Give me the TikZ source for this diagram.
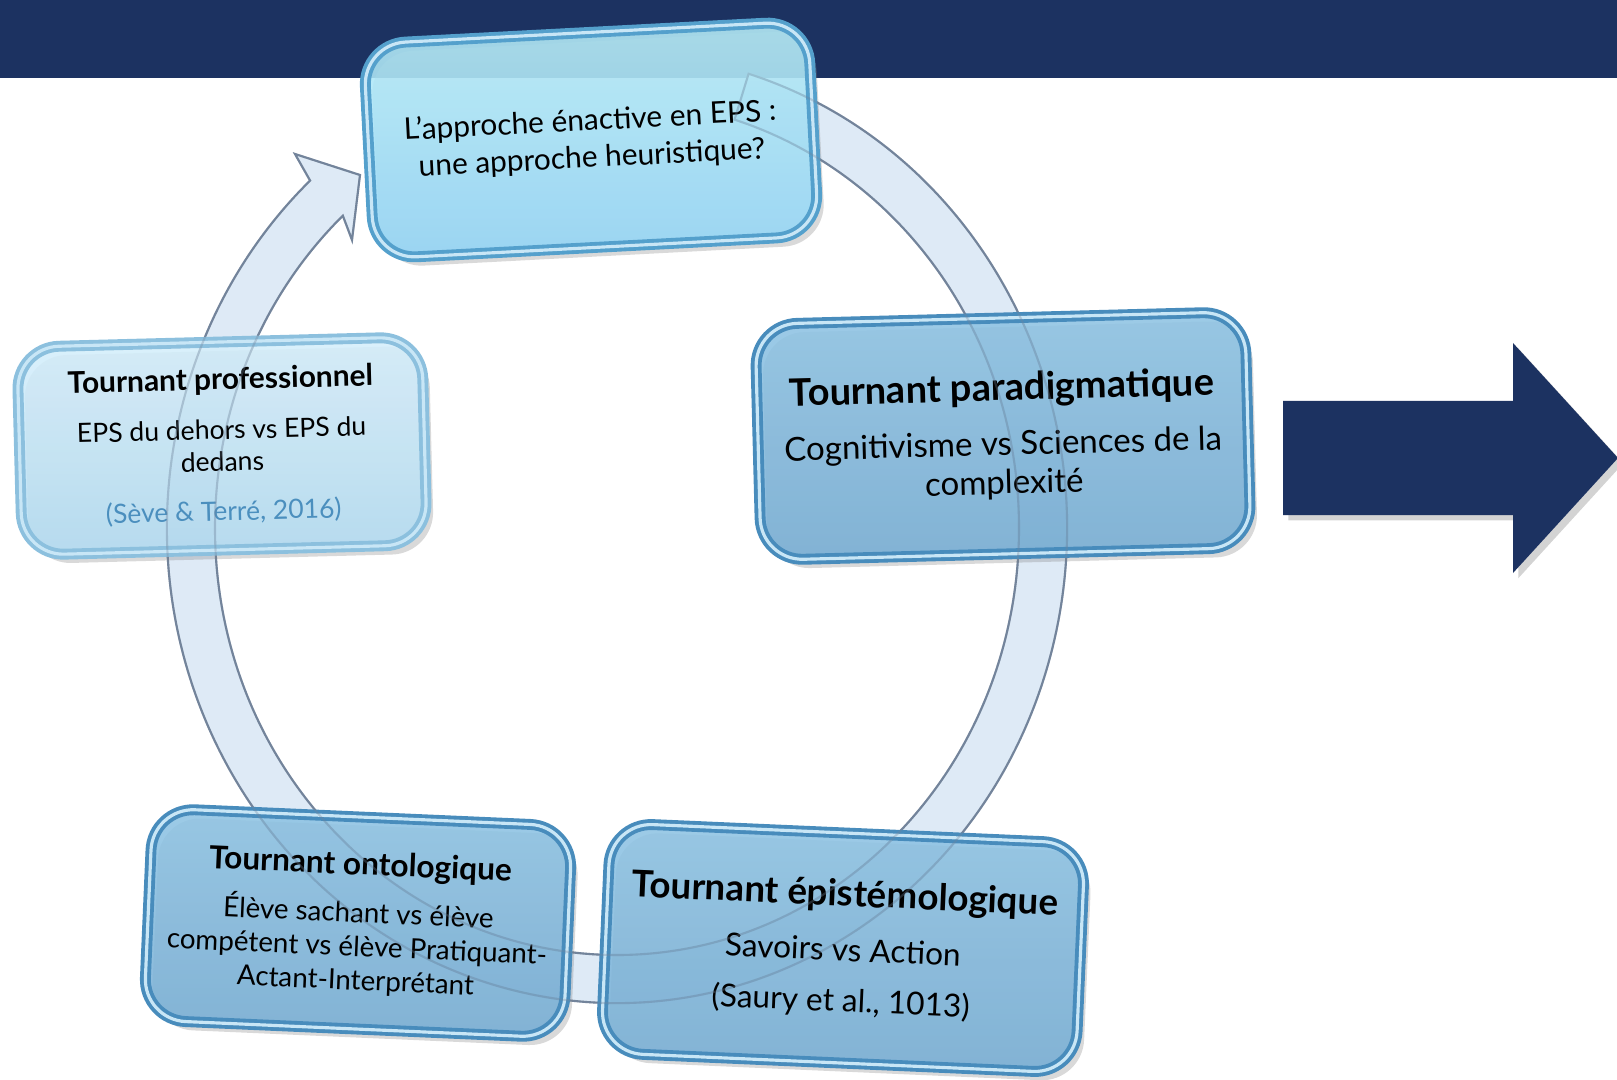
\documentclass[tikz,border=0pt]{standalone}
\usepackage{fontspec}
\setmainfont{Lato}
\usepackage{xcolor}
\usepackage{tikz}
\usetikzlibrary{
  positioning,
  calc,
  shadows
}
\definecolor{navyband}{RGB}{28, 50, 97}
\definecolor{cyantop}{RGB}{184, 238, 249}
\definecolor{cyanbot}{RGB}{146, 212, 246}
\definecolor{cyanedge}{RGB}{84, 160, 204}
\definecolor{palettop}{RGB}{214, 239, 251}
\definecolor{palebot}{RGB}{178, 219, 242}
\definecolor{paleedge}{RGB}{140, 192, 222}
\definecolor{deeptop}{RGB}{143, 196, 228}
\definecolor{deepbot}{RGB}{118, 173, 212}
\definecolor{deepedge}{RGB}{72, 140, 188}
\definecolor{edgehi}{RGB}{200, 230, 246}
\definecolor{ringfill}{RGB}{222, 234, 246}
\definecolor{ringedge}{RGB}{115, 132, 155}
\definecolor{citeblue}{RGB}{75, 143, 190}
\tikzset{
  card/.style={
    rounded corners=12pt,
    line width=1.1pt, double=edgehi, double distance=0.9pt,
    fill opacity=0.88, text opacity=1,
    drop shadow={shadow xshift=2pt, shadow yshift=-2.5pt, opacity=0.3},
    align=center, inner sep=2pt
  },
  cyancard/.style={card, draw=cyanedge, top color=cyantop, bottom color=cyanbot},
  palecard/.style={card, draw=paleedge, top color=palettop, bottom color=palebot},
  deepcard/.style={card, draw=deepedge, top color=deeptop, bottom color=deepbot},
  ringbody/.style={fill=ringfill, draw=ringedge, line width=0.6pt},
  ringtrace/.style={draw=ringedge, draw opacity=0.32, line width=0.6pt},
  bigarrow/.style={fill=navyband, drop shadow={shadow xshift=1.5pt, shadow yshift=-1.5pt, opacity=0.35}}
}
\newcommand{\ringarrow}[1]{
  \path[#1] ([shift={(73:4.50 and 4.75)}]ringc)
    arc[start angle=73, end angle=-227, x radius=4.50, y radius=4.75]
    -- (barbout) -- (tip) -- (barbin)
    -- ([shift={(-227:4.02 and 4.27)}]ringc)
    arc[start angle=-227, end angle=73, x radius=4.02, y radius=4.27]
    -- cycle;
}

\begin{document}
\begin{tikzpicture}[x=1cm, y=1cm]
\useasboundingbox (0,0) rectangle (16.17,10.79);
\clip (0,0) rectangle (16.17,10.79);

% bandeau du haut
\fill[navyband] (0,10.01) rectangle (16.17,10.79);

% fleche circulaire
\coordinate (ringc) at (6.17,5.51);
\coordinate (barbout) at (2.95,9.25);
\coordinate (barbin) at (3.52,8.39);
\coordinate (tip) at (3.60,9.04);
\ringarrow{ringbody}

% question centrale
\node[cyancard, rotate=3, minimum width=4.45cm, minimum height=2.15cm,
      font=\fontsize{8.5}{10.6}\selectfont] (approche) at (5.91,9.39)
  {L'approche énactive en EPS :\\une approche heuristique?};

% tournant professionnel
\node[palecard, rotate=1.5, minimum width=4.05cm, minimum height=2.08cm,
      font=\fontsize{7.55}{9.1}\selectfont] (prof) at (2.22,6.33)
  {{\fontsize{8.5}{10}\selectfont\bfseries Tournant professionnel}\\[5pt]
   EPS du dehors vs EPS du\\dedans\\[5pt]
   \textcolor{citeblue}{(Sève \& Terré, 2016)}};

% tournant paradigmatique
\node[deepcard, rotate=1.5, minimum width=4.90cm, minimum height=2.36cm,
      font=\fontsize{9.4}{11}\selectfont] (paradigme) at (10.03,6.43)
  {{\fontsize{10.8}{12.5}\selectfont\bfseries Tournant paradigmatique}\\[4.6pt]
   Cognitivisme vs Sciences de la\\complexité};

% tournant ontologique
\node[deepcard, rotate=-2.5, minimum width=4.20cm, minimum height=2.12cm,
      font=\fontsize{7.9}{9.6}\selectfont] (onto) at (3.58,1.56)
  {{\fontsize{9}{10.5}\selectfont\bfseries Tournant ontologique}\\[4pt]
   Élève sachant vs élève\\compétent vs élève Pratiquant-\\Actant-Interprétant};

% tournant epistemologique
\node[deepcard, rotate=-2.5, minimum width=4.75cm, minimum height=2.30cm,
      font=\fontsize{9}{10.8}\selectfont] (episte) at (8.43,1.31)
  {{\fontsize{10.45}{12}\selectfont\bfseries Tournant épistémologique}\\[4.8pt]
   Savoirs vs Action\\[3.7pt](Saury et al., 1013)};

% contour de l'anneau par-dessus les cartes
\ringarrow{ringtrace}

% grande fleche
\fill[bigarrow] (12.83,6.78) -- (15.13,6.78) -- (15.13,7.36) -- (16.18,6.21)
  -- (15.13,5.06) -- (15.13,5.64) -- (12.83,5.64) -- cycle;

\end{tikzpicture}
\end{document}
